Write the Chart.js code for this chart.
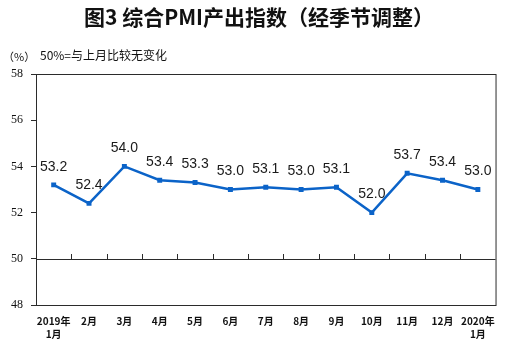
<!DOCTYPE html>
<html lang="zh-CN">
<head>
<meta charset="utf-8">
<title>综合PMI产出指数</title>
<script src="https://cdn.jsdelivr.net/npm/chart.js@4.4.1/dist/chart.umd.min.js"></script>
<style>
  html, body { margin: 0; padding: 0; background: #fff; }
  #wrap { position: relative; width: 505px; height: 348px; }
</style>
</head>
<body>
<div id="wrap"><canvas id="pmiChart" width="505" height="348"></canvas></div>
<script>
// ============================================
// DATA
// ============================================
const months = [
  ['2019年', '1月'], '2月', '3月', '4月', '5月', '6月', '7月',
  '8月', '9月', '10月', '11月', '12月', ['2020年', '1月']
];
const pmiOutput = [53.2, 52.4, 54.0, 53.4, 53.3, 53.0, 53.1, 53.0, 53.1, 52.0, 53.7, 53.4, 53.0];
const yTicks = [48, 50, 52, 54, 56, 58];
const baseline = 50;

const chartTitle = '图3 综合PMI产出指数（经季节调整）';
const unitText = '（%）';
const noteText = '50%=与上月比较无变化';

const LINE_COLOR = '#0b63c8';
const AXIS_COLOR = '#2b2b2b';

// ============================================
// PLUGINS: header text, frame + 50 line, value labels
// ============================================
const headerPlugin = {
  id: 'header',
  afterDraw(chart) {
    const ctx = chart.ctx;
    ctx.save();
    ctx.fillStyle = '#111';
    ctx.textBaseline = 'middle';
    ctx.textAlign = 'center';
    ctx.font = 'bold 21px "Noto Sans CJK SC", sans-serif';
    ctx.fillText(chartTitle, 259, 17);

    ctx.textAlign = 'left';
    ctx.font = '11px "Noto Sans CJK SC", sans-serif';
    ctx.fillText(unitText, 3, 57);
    ctx.font = '12px "Noto Sans CJK SC", sans-serif';
    ctx.fillText(noteText, 40, 55);
    ctx.restore();
  }
};

const framePlugin = {
  id: 'frame',
  beforeDatasetsDraw(chart) {
    const { ctx, chartArea, scales } = chart;
    const y50 = scales.y.getPixelForValue(baseline);
    ctx.save();
    ctx.strokeStyle = AXIS_COLOR;
    ctx.lineWidth = 1;
    ctx.strokeRect(chartArea.left + 0.5, chartArea.top + 0.5,
      chartArea.right - chartArea.left, chartArea.bottom - chartArea.top);

    // horizontal axis at 50 with small upward ticks between months
    ctx.beginPath();
    ctx.moveTo(chartArea.left, Math.round(y50) + 0.5);
    ctx.lineTo(chartArea.right, Math.round(y50) + 0.5);
    for (let i = 0; i < months.length - 1; i++) {
      const x = Math.round((scales.x.getPixelForValue(i) + scales.x.getPixelForValue(i + 1)) / 2) + 0.5;
      ctx.moveTo(x, Math.round(y50));
      ctx.lineTo(x, Math.round(y50) - 5);
    }
    ctx.stroke();
    ctx.restore();
  }
};

const valueLabelPlugin = {
  id: 'valueLabels',
  afterDatasetsDraw(chart) {
    const ctx = chart.ctx;
    const meta = chart.getDatasetMeta(0);
    ctx.save();
    ctx.fillStyle = '#1a1a1a';
    ctx.font = '14px "Liberation Sans", Arial, sans-serif';
    ctx.textAlign = 'center';
    ctx.textBaseline = 'middle';
    meta.data.forEach((pt, i) => {
      ctx.fillText(pmiOutput[i].toFixed(1), pt.x, pt.y - 18);
    });
    ctx.restore();
  }
};

// ============================================
// CHART
// ============================================
const ctx = document.getElementById('pmiChart').getContext('2d');
new Chart(ctx, {
  type: 'line',
  data: {
    labels: months,
    datasets: [{
      data: pmiOutput,
      borderColor: LINE_COLOR,
      backgroundColor: LINE_COLOR,
      borderWidth: 2.5,
      tension: 0,
      fill: false,
      pointStyle: 'rect',
      pointRadius: 3.5,
      pointBorderWidth: 0,
      pointBackgroundColor: LINE_COLOR
    }]
  },
  options: {
    responsive: false,
    animation: false,
    layout: { padding: { top: 74, right: 9, left: 0, bottom: 0 } },
    plugins: {
      legend: { display: false },
      title: { display: false },
      tooltip: { enabled: false }
    },
    scales: {
      x: {
        offset: true,
        grid: { display: false, drawTicks: false },
        border: { display: false },
        ticks: {
          autoSkip: false,
          maxRotation: 0,
          padding: 10,
          color: '#111',
          font: { family: '"Noto Sans CJK SC", sans-serif', size: 10, weight: 'bold', lineHeight: 1.3 }
        },
        afterFit(scale) { scale.height = 43; }
      },
      y: {
        min: yTicks[0],
        max: yTicks[yTicks.length - 1],
        afterBuildTicks(scale) {
          scale.ticks = yTicks.map(v => ({ value: v }));
        },
        grid: { drawOnChartArea: false, tickLength: 5, color: AXIS_COLOR },
        border: { display: true, color: AXIS_COLOR },
        ticks: {
          padding: 8,
          color: '#111',
          font: { family: '"Liberation Serif", serif', size: 12 }
        },
        afterFit(scale) { scale.width = 36; }
      }
    }
  },
  plugins: [framePlugin, valueLabelPlugin, headerPlugin]
});
</script>
</body>
</html>
